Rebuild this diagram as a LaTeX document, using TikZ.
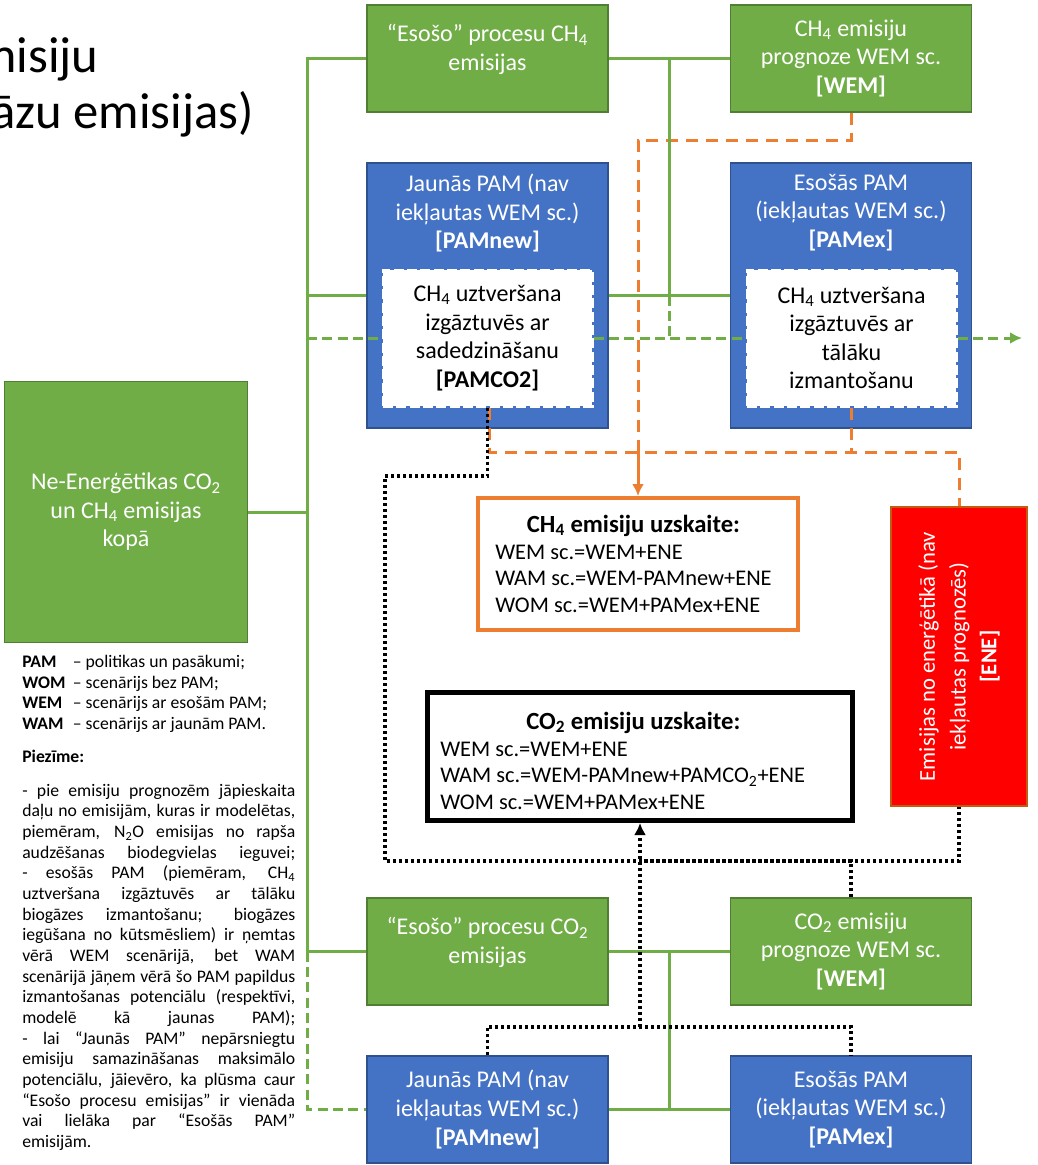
\documentclass[tikz,border=0pt]{standalone}
\usepackage{fontspec}
\setmainfont{Carlito}
\usetikzlibrary{positioning}
\usetikzlibrary{arrows.meta}
\definecolor{grn}{HTML}{70AD47}
\definecolor{grnedge}{HTML}{507E32}
\definecolor{blu}{HTML}{4472C4}
\definecolor{bluedge}{HTML}{2F528F}
\definecolor{ora}{HTML}{ED7D31}
\definecolor{enered}{HTML}{FF0000}
\definecolor{eneedge}{HTML}{C55A11}
\tikzset{>={Latex[length=9pt,width=9pt]}}
\tikzset{
  boxfont/.style={font=\fontsize{18}{21.4}\selectfont},
  greenbox/.style={draw=grnedge, fill=grn, line width=1pt, text=white, align=center,
    inner sep=0pt, minimum width=180.75pt, minimum height=80.25pt, boxfont},
  bluebox/.style={greenbox, draw=bluedge, fill=blu},
  boxtext/.style={text=white, align=center, inner sep=0pt, boxfont},
  innerbox/.style={fill=white, draw=white, line width=2.25pt, dash pattern=on 7.5pt off 2.5pt,
    text=black, align=center, inner sep=0pt, minimum width=156.75pt, minimum height=102pt, boxfont},
  accbox/.style={inner sep=0pt, fill=white},
  acctext/.style={anchor=west, inner sep=0pt, font=\fontsize{16.8}{20}\selectfont},
  titletext/.style={anchor=base west, inner sep=0pt, font=\fontsize{38}{42}\selectfont},
  gline/.style={grn, line width=2.25pt},
  gdash/.style={gline, dash pattern=on 7.5pt off 4pt},
  odash/.style={ora, line width=2.25pt, dash pattern=on 9pt off 6pt},
  bdot/.style={black, line width=2.5pt, dash pattern=on 2.25pt off 2.25pt}
}

\begin{document}
\begin{tikzpicture}[x=0.75pt,y=-0.75pt]
\useasboundingbox (0,0) rectangle (1038,1165);
\clip (0,0) rectangle (1038,1165);

% title, cut at the left edge
\node[titletext] (title1) at (-24,72) {misiju};
\node[titletext] (title2) at (-9,128) {āzu emisijas)};

% CH4 part
\node[greenbox] (esoch4) at (487.5,58.5) {};
\node[boxtext, below=15pt of esoch4.north] (esoch4t) {“Esošo” procesu CH\textsubscript{4}\\emisijas};
\node[greenbox] (wemch4) at (851,58.5) {CH\textsubscript{4} emisiju\\prognoze WEM sc.\\\textbf{[WEM]}};
\node[bluebox, minimum height=198.75pt] (pamnew) at (487.5,295.5) {};
\node[bluebox, minimum height=198.75pt] (pamex) at (851,295.5) {};
\node[boxtext, below=8.5pt of pamnew.north] (pamnewt) {Jaunās PAM (nav\\iekļautas WEM sc.)\\\textbf{[PAMnew]}};
\node[boxtext, below=8.5pt of pamex.north] (pamext) {Esošās PAM\\(iekļautas WEM sc.)\\\textbf{[PAMex]}};
\node[innerbox] (pamco2) at (487.5,338) {CH\textsubscript{4} uztveršana\\izgāztuvēs ar\\sadedzināšanu\\\textbf{[PAMCO2]}};
\node[innerbox] (capuse) at (851.5,338) {CH\textsubscript{4} uztveršana\\izgāztuvēs ar\\tālāku\\izmantošanu};

\node[greenbox, minimum width=182.25pt, minimum height=195.5pt] (total) at (126,512)
  {Ne-Enerģētikas CO\textsubscript{2}\\un CH\textsubscript{4} emisijas\\kopā};

\node[accbox, draw=ora, line width=3pt, minimum width=240pt, minimum height=99pt] (accch4) at (638,564) {};
\node[acctext] (accch4t) at (495,567) {\begin{tabular}{@{}l@{}}
  \multicolumn{1}{@{}c@{}}{\fontsize{18.5}{20}\selectfont\bfseries CH\textsubscript{4} emisiju uzskaite:}\\
  WEM sc.=WEM+ENE\\
  WAM sc.=WEM-PAMnew+ENE\\
  WOM sc.=WEM+PAMex+ENE
\end{tabular}};

\node[draw=eneedge, fill=enered, line width=1pt, inner sep=0pt, minimum width=102pt, minimum height=224.25pt] (ene) at (959,656.5) {};
\node[rotate=90, text=white, align=center, inner sep=0pt, font=\fontsize{17}{23}\selectfont] (enet) at (ene.center)
  {Emisijas no enerģētikā (nav\\iekļautas prognozēs)\\\textbf{[ENE]}};

% CO2 part
\node[accbox, draw=black, line width=3.75pt, minimum width=318.75pt, minimum height=96pt] (accco2) at (640,756.5) {};
\node[acctext] (accco2t) at (440,764) {\begin{tabular}{@{}l@{}}
  \multicolumn{1}{@{}c@{}}{\hspace{16pt}\fontsize{18.5}{20}\selectfont\bfseries CO\textsubscript{2} emisiju uzskaite:}\\
  WEM sc.=WEM+ENE\\
  WAM sc.=WEM-PAMnew+PAMCO\textsubscript{2}+ENE\\
  WOM sc.=WEM+PAMex+ENE
\end{tabular}};

\node[greenbox] (esoco2) at (487.5,951.5) {};
\node[boxtext, below=15pt of esoco2.north] (esoco2t) {“Esošo” procesu CO\textsubscript{2}\\emisijas};
\node[greenbox] (wemco2) at (851,951.5) {CO\textsubscript{2} emisiju\\prognoze WEM sc.\\\textbf{[WEM]}};
\node[bluebox] (pamnew2) at (487.5,1109.5) {Jaunās PAM (nav\\iekļautas WEM sc.)\\\textbf{[PAMnew]}};
\node[bluebox] (pamex2) at (851,1109.5) {Esošās PAM\\(iekļautas WEM sc.)\\\textbf{[PAMex]}};

% legend and note
\node[anchor=north west, inner sep=0pt, text width=204.75pt, align=justify,
  font=\fontsize{13.25}{15.5}\selectfont] (notes) at (22,655) {\hyphenpenalty=10000 \exhyphenpenalty=10000 \tolerance=10000 \parindent=0pt
\makebox[38pt][l]{\textbf{PAM}}– politikas un pasākumi;\\
\makebox[38pt][l]{\textbf{WOM}}– scenārijs bez PAM;\\
\makebox[38pt][l]{\textbf{WEM}}– scenārijs ar esošām PAM;\\
\makebox[38pt][l]{\textbf{WAM}}– scenārijs ar jaunām PAM.\\[9pt]
\textbf{Piezīme:}\\[10pt]
- pie emisiju prognozēm jāpieskaita\linebreak
daļu no emisijām, kuras ir modelētas,\linebreak
piemēram, N\textsubscript{2}O emisijas no rapša\linebreak
audzēšanas biodegvielas ieguvei;\linebreak
- esošās PAM (piemēram, CH\textsubscript{4}\linebreak
uztveršana izgāztuvēs ar tālāku\linebreak
biogāzes izmantošanu; biogāzes\linebreak
iegūšana no kūtsmēsliem) ir ņemtas\linebreak
vērā WEM scenārijā, bet WAM\linebreak
scenārijā jāņem vērā šo PAM papildus\linebreak
izmantošanas potenciālu (respektīvi,\linebreak
modelē kā jaunas PAM);\linebreak
- lai “Jaunās PAM” nepārsniegtu\linebreak
emisiju samazināšanas maksimālo\linebreak
potenciālu, jāievēro, ka plūsma caur\linebreak
“Esošo procesu emisijas” ir vienāda\linebreak
vai lielāka par “Esošās PAM”\linebreak
emisijām.};

% orange CH4 links
\coordinate (oturn) at (638,140);
\coordinate (ojoin) at (638,452);
\draw[odash] (wemch4.south) |- (oturn) -- (ojoin);
\draw[odash] ([xshift=1.5pt]pamco2.south) |- (ene.north |- ojoin) -- (ene.north);
\draw[odash] (capuse.south) -- (capuse.south |- ojoin);
\draw[ora, line width=2.25pt, ->] (ojoin) -- (accch4.north);

% green links
\coordinate (gtop) at (307,58.5);
\coordinate (gbot) at (307,951.5);
\coordinate (gmid) at (669,58.5);
\coordinate (gout) at (1022,338);
\draw[gline] (esoch4.west) -- (gtop) -- (gbot) -- (esoco2.west);
\draw[gline] (gtop |- pamnew.west) -- (pamnew.west);
\draw[gline] (total.east) -- (gtop |- total.east);
\draw[gline] (esoch4.east) -- (wemch4.west);
\draw[gline] (gmid) -- (gmid |- pamnew.east);
\draw[gline] (pamnew.east) -- (pamex.west);
\draw[gline] (esoco2.east) -- (wemco2.west);
\draw[gline] (gmid |- esoco2.east) -- (gmid |- pamnew2.east);
\draw[gline] (pamnew2.east) -- (pamex2.west);
\draw[gdash] (gbot) |- (pamnew2.west);
\draw[gdash] (gtop |- gout) -- (pamco2.west);
\draw[gdash] (pamco2.east) -- (capuse.west);
\draw[gdash, ->] (capuse.east) -- (gout);
\draw[gdash] (gmid |- pamnew.east) -- (gmid |- gout);

% black CO2 links
\coordinate (bturn) at (385,476);
\coordinate (bcorner) at (385,861);
\coordinate (bbase) at (640,1027);
\draw[bdot] (pamco2.south) |- (bturn) -- (bcorner) -| (ene.south);
\draw[bdot] (wemco2.north) |- (accco2.south |- bcorner);
\draw[bdot, ->] (bbase) -- (accco2.south);
\draw[bdot] (pamnew2.north) |- (bbase) -| (pamex2.north);
\end{tikzpicture}
\end{document}
